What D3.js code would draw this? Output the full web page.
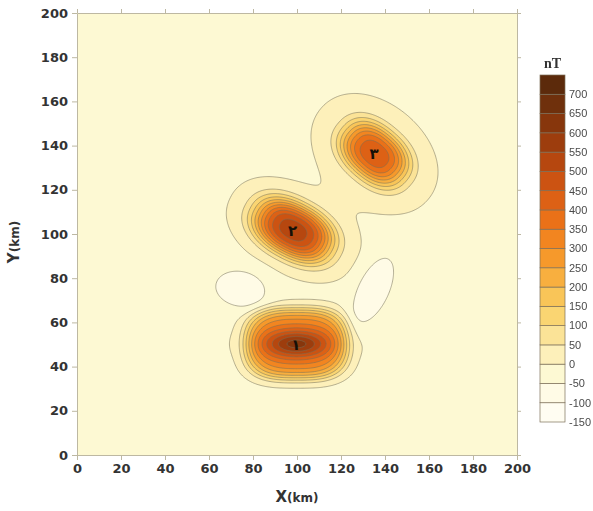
<!DOCTYPE html>
<html>
<head>
<meta charset="utf-8">
<script src="https://cdn.jsdelivr.net/npm/d3@7"></script>
<style>
  body { margin: 0; background: #fff; }
</style>
</head>
<body>
<div id="container"></div>
<script>
let w = 593;
let h = 511;

// colour scale (nT)
let levels = [-150, -100, -50, 0, 50, 100, 150, 200, 250, 300, 350, 400, 450, 500, 550, 600, 650, 700, 750];
let levelColors = ["#fffdf2", "#fffbe6", "#fdf9d3", "#fdf0ba", "#fbe397", "#fad572", "#f9c558",
  "#f8af3f", "#f6992b", "#f28520", "#ea7118", "#dd6115", "#cc5312", "#b6470f", "#9d3d0d",
  "#87360c", "#6f300c", "#5c2a0b"];
let barLabels = [-150, -100, -50, 0, 50, 100, 150, 200, 250, 300, 350, 400, 450, 500, 550, 600, 650, 700];
let axisTicks = [0, 20, 40, 60, 80, 100, 120, 140, 160, 180, 200];

// the three anomaly sources (km, nT, degrees)
let bodyLabels = ["۱", "۲", "۳"];
let bodyX = [99.5, 98, 135];
let bodyY = [50, 101.5, 136];
let bodyAngle = [0, -28, -40];
// main body
let mainPeak = [330, 510, 420];
let mainLen = [23, 18.5, 16.5];
let mainWid = [16.1, 11.5, 11.4];
let mainSquare = [3, 2.3, 2.3];
let mainSharp = [6, 3, 3];
// inner core
let corePeak = [300, 0, 0];
let coreLen = [11, 10, 10];
let coreWid = [4.5, 5, 5];
// faint outer halo
let haloPeak = [0, 22, 22];
let haloLen = [20, 19, 22];
let haloWid = [13, 12, 16];

// the two negative lows
let lowX = [74, 134.5];
let lowY = [75, 74.5];
let lowAngle = [-10, 65];
let lowPeak = [-75, -75];
let lowLen = [13.5, 19];
let lowWid = [9.5, 8.5];

let baseLevel = -8;

let plotLeft = 77, plotRight = 517, plotTop = 13, plotBottom = 455;

let viz = d3.select("#container").append("svg")
    .attr("width", w)
    .attr("height", h)
    .style("font-family", "'DejaVu Sans', sans-serif")
;

let xScale = d3.scaleLinear().domain([0, 200]).range([plotLeft, plotRight]);
let yScale = d3.scaleLinear().domain([0, 200]).range([plotBottom, plotTop]);

// field model
function rotate(x, y, cx, cy, ang) {
  let a = ang * Math.PI / 180;
  let dx = x - cx, dy = y - cy;
  return [dx * Math.cos(a) + dy * Math.sin(a), -dx * Math.sin(a) + dy * Math.cos(a)];
}
function superBump(u, v, a, b, m, p) {
  let r = Math.pow(Math.pow(Math.abs(u / a), m) + Math.pow(Math.abs(v / b), m), 1 / m);
  return Math.exp(-Math.pow(r, p));
}
function bell(u, v, su, sv) {
  return Math.exp(-(u * u) / (2 * su * su) - (v * v) / (2 * sv * sv));
}

let step = 0.5;
let x0 = -2;
let n = Math.round(204 / step) + 1;
let values = new Array(n * n);
for (let j = 0; j < n; j++) {
  for (let i = 0; i < n; i++) {
    let x = x0 + i * step, y = x0 + j * step;
    let v = baseLevel;
    for (let k = 0; k < bodyX.length; k++) {
      let uv = rotate(x, y, bodyX[k], bodyY[k], bodyAngle[k]);
      v += mainPeak[k] * superBump(uv[0], uv[1], mainLen[k], mainWid[k], mainSquare[k], mainSharp[k]);
      v += corePeak[k] * bell(uv[0], uv[1], coreLen[k], coreWid[k]);
      v += haloPeak[k] * bell(uv[0], uv[1], haloLen[k], haloWid[k]);
    }
    for (let k = 0; k < lowX.length; k++) {
      let uv = rotate(x, y, lowX[k], lowY[k], lowAngle[k]);
      v += lowPeak[k] * superBump(uv[0], uv[1], lowLen[k], lowWid[k], 2, 3);
    }
    values[j * n + i] = v;
  }
}

let contours = d3.contours().size([n, n]).thresholds(levels.slice(0, levelColors.length))(values);

let gridTransform = d3.geoTransform({
  point: function(px, py) {
    this.stream.point(xScale(x0 + px * step), yScale(x0 + py * step));
  }
});
let pathMaker = d3.geoPath(gridTransform);

viz.append("clipPath").attr("id", "plotclip")
  .append("rect")
    .attr("x", plotLeft).attr("y", plotTop)
    .attr("width", plotRight - plotLeft).attr("height", plotBottom - plotTop);

let plot = viz.append("g").attr("clip-path", "url(#plotclip)");

plot.selectAll(".band").data(contours).enter()
  .append("path")
    .attr("class", "band")
    .attr("d", pathMaker)
    .attr("fill", function(d, i) { return levelColors[i]; })
    .attr("stroke", "none")
;

plot.selectAll(".line").data(contours).enter()
  .append("path")
    .attr("class", "line")
    .attr("d", pathMaker)
    .attr("fill", "none")
    .attr("stroke", "#76705a")
    .attr("stroke-opacity", 0.6)
    .attr("stroke-width", 0.9)
;

// source numbers
viz.selectAll(".blabel").data(bodyLabels).enter()
  .append("text")
    .attr("class", "blabel")
    .attr("x", function(d, i) { return xScale(bodyX[i]); })
    .attr("y", function(d, i) { return yScale(bodyY[i]); })
    .attr("text-anchor", "middle")
    .attr("dominant-baseline", "central")
    .attr("font-size", 15)
    .attr("font-weight", "bold")
    .attr("fill", "#141008")
    .text(function(d) { return d; })
;

// axes
let axisColor = "#bdb8a2";
function styleAxis(g, showText) {
  g.select(".domain").attr("stroke", axisColor);
  g.selectAll(".tick line").attr("stroke", axisColor);
  g.selectAll(".tick text")
    .attr("fill", "#333")
    .attr("font-size", 13)
    .attr("font-weight", "bold")
    .attr("font-family", "'DejaVu Sans', sans-serif")
    .style("display", showText ? null : "none");
}

viz.append("g").attr("transform", "translate(0," + plotBottom + ")")
  .call(d3.axisBottom(xScale).tickValues(axisTicks).tickSize(5).tickPadding(4).tickSizeOuter(0))
  .call(styleAxis, true);
viz.append("g").attr("transform", "translate(" + plotLeft + ",0)")
  .call(d3.axisLeft(yScale).tickValues(axisTicks).tickSize(5).tickPadding(4).tickSizeOuter(0))
  .call(styleAxis, true);
viz.append("g").attr("transform", "translate(0," + plotTop + ")")
  .call(d3.axisTop(xScale).tickValues(axisTicks).tickSize(4).tickSizeOuter(0))
  .call(styleAxis, false);
viz.append("g").attr("transform", "translate(" + plotRight + ",0)")
  .call(d3.axisRight(yScale).tickValues(axisTicks).tickSize(4).tickSizeOuter(0))
  .call(styleAxis, false);

// axis titles
let xt = viz.append("text")
    .attr("x", (plotLeft + plotRight) / 2)
    .attr("y", 502)
    .attr("text-anchor", "middle")
    .attr("font-weight", "bold")
    .attr("fill", "#333");
xt.append("tspan").attr("font-size", 15).text("X");
xt.append("tspan").attr("font-size", 12).text("(km)");

let yt = viz.append("text")
    .attr("transform", "translate(19," + ((plotTop + plotBottom) / 2 + 8) + ") rotate(-90)")
    .attr("text-anchor", "middle")
    .attr("font-weight", "bold")
    .attr("fill", "#333");
yt.append("tspan").attr("font-size", 15).text("Y");
yt.append("tspan").attr("font-size", 12).text("(km)");

// colour bar
let barScale = d3.scaleLinear().domain([-150, 750]).range([422, 75]);
let barX = 540, barW = 25;
let bar = viz.append("g");
bar.selectAll("rect").data(levelColors).enter()
  .append("rect")
    .attr("x", barX)
    .attr("y", function(d, i) { return barScale(levels[i + 1]); })
    .attr("width", barW)
    .attr("height", function(d, i) { return barScale(levels[i]) - barScale(levels[i + 1]); })
    .attr("fill", function(d) { return d; })
    .attr("stroke", "#7d705a")
    .attr("stroke-width", 0.7)
;
let barText = viz.append("g").style("filter", "grayscale(100%)");
barText.selectAll("text").data(barLabels).enter()
  .append("text")
    .attr("x", barX + barW + 4)
    .attr("y", function(d) { return barScale(d); })
    .attr("dy", "0.35em")
    .attr("font-size", 11)
    .attr("font-family", "'Liberation Sans', Arial, sans-serif")
    .attr("fill", "#4a4a4a")
    .text(function(d) { return d; })
;
barText.append("text")
    .attr("x", barX + barW / 2)
    .attr("y", 68)
    .attr("text-anchor", "middle")
    .attr("font-size", 14)
    .attr("font-weight", "bold")
    .attr("font-family", "'Liberation Serif', serif")
    .attr("fill", "#333")
    .text("nT");
</script>
</body>
</html>
